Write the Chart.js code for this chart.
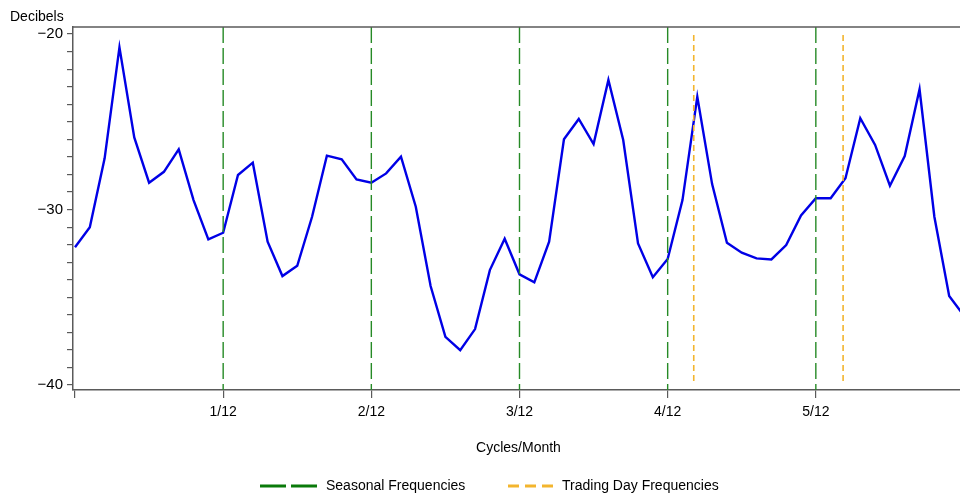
<!DOCTYPE html>
<html>
<head>
<meta charset="utf-8">
<title>Spectral Plot</title>
<script src="https://cdn.jsdelivr.net/npm/chart.js@4.4.1/dist/chart.umd.min.js"></script>
<style>
  html, body { margin: 0; padding: 0; background: #fff; overflow: hidden; }
  canvas { display: block; }
</style>
</head>
<body>
<canvas id="spectrum" width="980" height="494"></canvas>
<script>
// spectrum estimate in decibels, one value every 1/120 cycles/month from 0 to 1/2
const decibels = [
  -32.15, -31.01, -27.08, -20.76, -25.89, -28.47, -27.85, -26.57, -29.46, -31.70,
  -31.32, -28.03, -27.33, -31.83, -33.79, -33.20, -30.41, -26.93, -27.14, -28.28,
  -28.47, -27.94, -26.99, -29.84, -34.36, -37.25, -38.01, -36.81, -33.45, -31.66,
  -33.69, -34.15, -31.83, -26.00, -24.84, -26.27, -22.62, -26.04, -31.93, -33.86,
  -32.82, -29.46, -23.57, -28.55, -31.89, -32.46, -32.78, -32.84, -32.02, -30.33,
  -29.36, -29.36, -28.22, -24.80, -26.32, -28.64, -26.95, -23.15, -30.41, -34.93,
  -36.05
];
const freqStep = 1 / 120;

const seasonalFreqs = [1 / 12, 2 / 12, 3 / 12, 4 / 12, 5 / 12];
const tradingDayFreqs = [0.348, 0.432];

const xTicks = [0, 1 / 12, 2 / 12, 3 / 12, 4 / 12, 5 / 12];
const xTickLabels = ['', '1/12', '2/12', '3/12', '4/12', '5/12'];
const yMin = -40.28;
const yMax = -19.6;

const FONT = "'Liberation Sans', Arial, sans-serif";
const AXIS = '#5a5a5a';
const GREEN = '#268a26';
const ORANGE = '#f3b52e';

const spectrumPoints = decibels.map((v, i) => ({ x: i * freqStep, y: v }));

// vertical reference lines, one broken dataset per kind
function refLines(freqs, top, bottom) {
  const pts = [];
  freqs.forEach(f => {
    pts.push({ x: f, y: top }, { x: f, y: bottom }, { x: f, y: null });
  });
  return pts;
}

// frame line along the top and the labels drawn outside the axes
const extras = {
  id: 'extras',
  afterDraw(chart) {
    const ctx = chart.ctx;
    const a = chart.chartArea;
    ctx.save();
    ctx.strokeStyle = AXIS;
    ctx.lineWidth = 1.5;
    ctx.beginPath();
    ctx.moveTo(a.left, a.top);
    ctx.lineTo(a.right, a.top);
    ctx.stroke();

    ctx.fillStyle = '#000';
    ctx.font = '14px ' + FONT;
    ctx.textBaseline = 'middle';
    ctx.textAlign = 'left';
    ctx.fillText('Decibels', 10, 17);

    // legend
    const ly = 486;
    ctx.lineWidth = 3;
    ctx.strokeStyle = '#0a7a0a';
    ctx.setLineDash([26, 5]);
    ctx.beginPath();
    ctx.moveTo(260, ly);
    ctx.lineTo(318, ly);
    ctx.stroke();
    ctx.strokeStyle = ORANGE;
    ctx.setLineDash([11, 6]);
    ctx.beginPath();
    ctx.moveTo(508, ly);
    ctx.lineTo(555, ly);
    ctx.stroke();
    ctx.setLineDash([]);
    ctx.fillText('Seasonal Frequencies', 326, ly);
    ctx.fillText('Trading Day Frequencies', 562, ly);
    ctx.restore();
  }
};

new Chart(document.getElementById('spectrum'), {
  type: 'line',
  data: {
    datasets: [
      {
        label: 'Seasonal Frequencies',
        data: refLines(seasonalFreqs, yMax, yMin),
        borderColor: GREEN,
        borderWidth: 1.4,
        borderDash: [16, 5],
        pointRadius: 0,
        spanGaps: false
      },
      {
        label: 'Trading Day Frequencies',
        data: refLines(tradingDayFreqs, -20.05, -40),
        borderColor: ORANGE,
        borderWidth: 1.6,
        borderDash: [6, 4],
        pointRadius: 0,
        spanGaps: false
      },
      {
        label: 'Spectrum',
        data: spectrumPoints,
        borderColor: '#0000e6',
        borderWidth: 2.4,
        pointRadius: 0,
        tension: 0
      }
    ]
  },
  options: {
    responsive: false,
    animation: false,
    layout: { padding: { top: 27, right: 16, left: 0, bottom: 0 } },
    plugins: {
      legend: { display: false },
      tooltip: { enabled: false }
    },
    scales: {
      x: {
        type: 'linear',
        min: -0.001125,
        max: 0.5,
        afterFit(scale) { scale.height = 104; },
        afterBuildTicks(scale) { scale.ticks = xTicks.map(v => ({ value: v })); },
        grid: { drawOnChartArea: false, tickLength: 8, color: AXIS, lineWidth: 1.2 },
        border: { color: AXIS, width: 1.5 },
        ticks: {
          autoSkip: false,
          maxRotation: 0,
          padding: 6,
          color: '#000',
          font: { family: FONT, size: 14 },
          callback: (v, i) => xTickLabels[i]
        },
        title: {
          display: true,
          text: 'Cycles/Month',
          color: '#000',
          font: { family: FONT, size: 14 },
          padding: { top: 0, bottom: 37 }
        }
      },
      y: {
        min: yMin,
        max: yMax,
        afterFit(scale) { scale.width = 73; },
        afterBuildTicks(scale) {
          const t = [];
          for (let v = -40; v <= -20; v++) t.push({ value: v });
          scale.ticks = t;
        },
        grid: { drawOnChartArea: false, tickLength: 6, color: AXIS, lineWidth: 1.2 },
        border: { color: AXIS, width: 1.5 },
        ticks: {
          autoSkip: false,
          padding: 4,
          color: '#000',
          font: { family: FONT, size: 15 },
          callback: v => (v % 10 === 0 ? '\u2212' + Math.abs(v) : '')
        }
      }
    }
  },
  plugins: [extras]
});
</script>
</body>
</html>
